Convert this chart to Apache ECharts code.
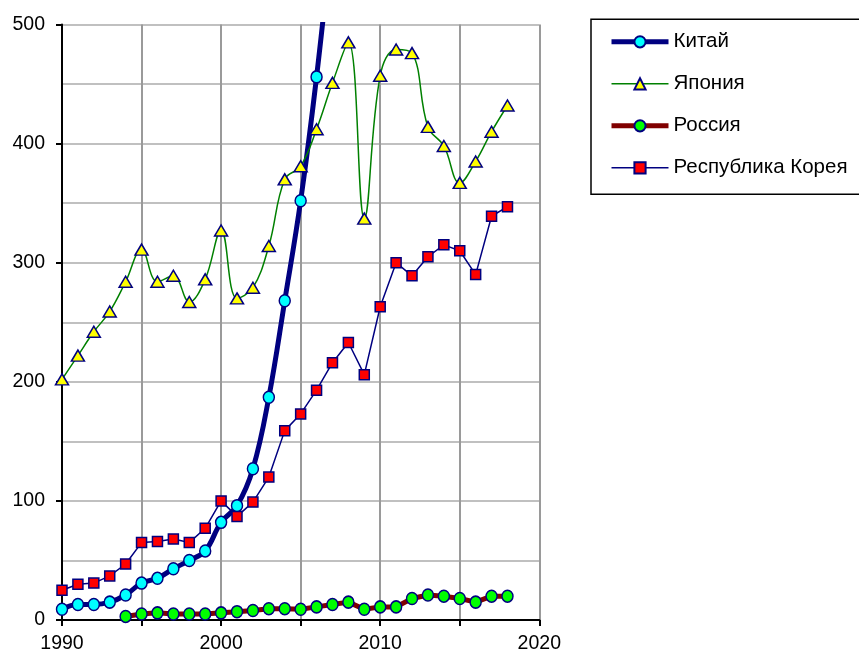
<!DOCTYPE html>
<html>
<head>
<meta charset="utf-8">
<script src="https://cdn.jsdelivr.net/npm/echarts@6/dist/echarts.min.js"></script>
<style>
html,body{margin:0;padding:0;background:#fff;}
#chart{width:859px;height:657px;}
</style>
</head>
<body>
<div id="chart"></div>
<script>
// Series names (legend)
var seriesNames = ['Китай', 'Япония', 'Россия', 'Республика Корея'];
// First year of each series
var chinaStart = 1990;
var japanStart = 1990;
var russiaStart = 1994;
var koreaStart = 1990;
// Values
var chinaValues = [9, 13, 13, 15, 21, 31, 35, 43, 50, 58, 82, 96, 127, 187, 268, 352, 456, 580];
var japanValues = [202, 222, 242, 259, 284, 311, 284, 289, 267, 286, 327, 270, 279, 314, 370, 381, 412, 451, 485, 337, 457, 479, 476, 414, 398, 367, 385, 410, 432];
var russiaValues = [3, 5, 6, 5, 5, 5, 6, 7, 8, 9.5, 9.5, 9, 11, 13, 15, 9, 11, 11, 18, 21, 20, 18, 15, 20, 20];
var koreaValues = [25, 30, 31, 37, 47, 65, 66, 68, 65, 77, 100, 87, 99, 120, 159, 173, 193, 216, 233, 206, 263, 300, 289, 305, 315, 310, 290, 339, 347];
// Axis ranges / ticks
var xMin = 1990, xMax = 2020, xStep = 5, xLabelStep = 10;
var yMin = 0, yMax = 500, yStep = 100;

function pairs(start, vals) {
  var out = [];
  for (var i = 0; i < vals.length; i++) out.push([start + i, vals[i]]);
  return out;
}

var font = '"Liberation Sans", Arial, sans-serif';
var lineWidths = [5, 1.5, 5, 1.5];
var chart = echarts.init(document.getElementById('chart'), null, {renderer: 'canvas'});

chart.setOption({
  animation: false,
  backgroundColor: '#ffffff',
  grid: {left: 62, top: 24.5, right: 319.7, bottom: 37, containLabel: false},
  legend: {
    orient: 'vertical',
    left: 591,
    top: 19.3,
    padding: [12, 60, 16, 18],
    itemGap: 21,
    itemWidth: 57,
    itemHeight: 14,
    borderColor: '#000000',
    borderWidth: 1.5,
    backgroundColor: '#ffffff',
    textStyle: {fontFamily: font, fontSize: 20.5, color: '#000000', lineHeight: 20},
    data: seriesNames.map(function (n, i) {
      return {name: n, lineStyle: {width: lineWidths[i]}};
    })
  },
  xAxis: {
    type: 'value',
    min: xMin, max: xMax, interval: xStep,
    axisLine: {show: true, onZero: false, lineStyle: {color: '#000000', width: 2}},
    axisTick: {show: true, length: 6, lineStyle: {color: '#000000', width: 2}},
    axisLabel: {
      margin: 14, fontFamily: font, fontSize: 19.5, color: '#000000',
      formatter: function (v) { return (v % xLabelStep === 0) ? String(v) : ''; }
    },
    splitLine: {show: true, lineStyle: {color: '#9a9a9a', width: 2}}
  },
  yAxis: {
    type: 'value',
    min: yMin, max: yMax, interval: yStep,
    axisLine: {show: true, lineStyle: {color: '#000000', width: 2}},
    axisTick: {show: true, length: 6, lineStyle: {color: '#000000', width: 2}},
    axisLabel: {margin: 17, fontFamily: font, fontSize: 19.5, color: '#000000'},
    splitLine: {show: true, lineStyle: {color: '#c0c0c0', width: 2}},
    minorTick: {show: false, splitNumber: 2},
    minorSplitLine: {show: true, lineStyle: {color: '#c0c0c0', width: 2}}
  },
  series: [
    {
      name: seriesNames[0], type: 'line', data: pairs(chinaStart, chinaValues),
      smooth: 0.4, clip: true,
      lineStyle: {color: '#000080', width: lineWidths[0]},
      symbol: 'circle', symbolSize: [11, 12],
      itemStyle: {color: '#00ffff', borderColor: '#000080', borderWidth: 1.5},
      z: 2
    },
    {
      name: seriesNames[1], type: 'line', data: pairs(japanStart, japanValues),
      smooth: 0.4, clip: true,
      lineStyle: {color: '#008000', width: lineWidths[1]},
      symbol: 'triangle', symbolSize: [13, 11],
      itemStyle: {color: '#ffff00', borderColor: '#000080', borderWidth: 1.5},
      z: 3
    },
    {
      name: seriesNames[2], type: 'line', data: pairs(russiaStart, russiaValues),
      smooth: false, clip: true,
      lineStyle: {color: '#800000', width: lineWidths[2]},
      symbol: 'circle', symbolSize: [11, 12],
      itemStyle: {color: '#00ff00', borderColor: '#000080', borderWidth: 1.5},
      z: 4
    },
    {
      name: seriesNames[3], type: 'line', data: pairs(koreaStart, koreaValues),
      smooth: false, clip: true,
      lineStyle: {color: '#000080', width: lineWidths[3]},
      symbol: 'rect', symbolSize: [10, 10],
      itemStyle: {color: '#ff0000', borderColor: '#000080', borderWidth: 1.5},
      z: 5
    }
  ]
});
</script>
</body>
</html>
